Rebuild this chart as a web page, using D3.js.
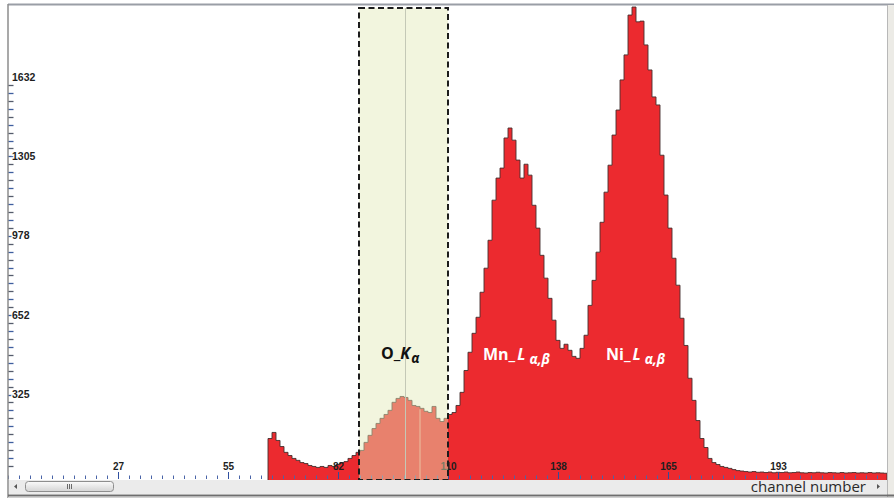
<!DOCTYPE html>
<html>
<head>
<meta charset="utf-8">
<script src="https://cdn.jsdelivr.net/npm/d3@7"></script>
<style>
  body { margin: 0; background: #ffffff; }
  svg { display: block; }
</style>
</head>
<body>
<svg id="chart" width="894" height="498"></svg>
<script>
// ---- spectrum data -------------------------------------------------------
// counts per channel, starting at channel 65 (channels below are empty)
const firstChannel = 65;
const counts = [
  144, 169, 136, 111, 87, 74, 62, 54, 45, 41,          // 65-74
  33, 29, 25, 29, 25, 33, 29, 37, 45, 49,              // 75-84
  62, 74, 87, 95, 128, 157, 185, 206, 227, 243,        // 85-94
  260, 293, 309, 317, 313, 301, 280, 276, 268, 256,    // 95-104
  251, 276, 227, 214, 227, 243, 251, 280, 334, 424,    // 105-114
  499, 577, 643, 746, 845, 960, 1125, 1216, 1257, 1381,// 115-124
  1422, 1372, 1290, 1216, 1273, 1228, 1104, 1010, 898, 804, // 125-134
  721, 631, 548, 515, 532, 507, 482, 474, 515, 569,    // 135-144
  692, 795, 911, 1034, 1158, 1269, 1393, 1496, 1620, 1723, // 145-154
  1887, 1920, 1859, 1862, 1764, 1661, 1550, 1517, 1310, 1146, // 155-164
  1010, 886, 775, 639, 527, 392, 301, 218, 144, 107,   // 165-174
  62, 45, 37, 29, 25, 21, 16, 12, 10, 8,               // 175-184
  6, 8, 5, 6, 4, 6, 3, 5, 4, 6,                        // 185-194
  3, 4, 6, 3, 2, 4, 3, 5, 3, 2,                        // 195-204
  4, 3, 2, 4, 2, 3, 4, 2, 3, 2,                        // 205-214
  4, 2, 3, 2, 1                                        // 215-219
];
const lastChannel = 219.75;                 // right edge of the channel axis
const maxCount = 1929;                       // top of the count axis

// axis ticks
const xTickValues = [27.5, 55, 82.5, 110, 137.5, 165, 192.5];
const xTickLabels = ["27", "55", "82", "110", "138", "165", "193"];
const yTickValues = [325, 652, 978, 1305, 1632];
const yTickLabels = ["325", "652", "978", "1305", "1632"];

// integration window for the oxygen line (in channels)
const oWindow = [87.75, 110];
const oWindowCentre = 99.25;

// peak annotations
const peakNames = ["O_", "Mn_", "Ni_"];
const peakLines = ["K", "L", "L"];
const peakSubs  = ["α", "α,β", "α,β"];
const peakChannels = [93.25, 118.75, 149.5];

// ---- layout ----------------------------------------------------------------
const svg = d3.select("#chart");
const plotLeft = 8, plotRight = 887, plotTop = 5, plotBottom = 479;

const x = d3.scaleLinear().domain([0, lastChannel]).range([plotLeft, plotRight]);
const y = d3.scaleLinear().domain([0, 1632]).range([473.5, 77]);

const series = counts.map((v, i) => ({ ch: firstChannel + i, v }));
series.push({ ch: lastChannel, v: counts[counts.length - 1] });

// window background
svg.append("rect")
  .attr("x", 0).attr("y", 0).attr("width", 894).attr("height", 498)
  .attr("fill", "#ffffff");

// ---- spectrum ---------------------------------------------------------------
const area = d3.area()
  .curve(d3.curveStepAfter)
  .x(d => x(d.ch))
  .y0(plotBottom + 2)
  .y1(d => y(d.v));

svg.append("path")
  .datum(series)
  .attr("d", area)
  .attr("fill", "#ec2a2f")
  .attr("stroke", "#46302f")
  .attr("stroke-width", 0.9);

// faint marker inside the oxygen window
const markCh = 103;
svg.append("line")
  .attr("x1", x(markCh)).attr("x2", x(markCh))
  .attr("y1", y(counts[markCh - firstChannel]) + 1).attr("y2", plotBottom)
  .attr("stroke", "#f2a090").attr("stroke-width", 1);

// ---- channel axis (drawn inside the plot, along the bottom) ----------------
const minorX = d3.range(0, lastChannel, 2.75);
svg.append("g").selectAll("line")
  .data(minorX)
  .join("line")
  .attr("x1", d => x(d) + 0.5).attr("x2", d => x(d) + 0.5)
  .attr("y1", plotBottom - 3.5).attr("y2", plotBottom)
  .attr("stroke", "#4a64a8").attr("stroke-width", 1);

svg.append("g").selectAll("line")
  .data(xTickValues)
  .join("line")
  .attr("x1", d => x(d) + 0.5).attr("x2", d => x(d) + 0.5)
  .attr("y1", plotBottom - 7).attr("y2", plotBottom)
  .attr("stroke", "#2f4fa0").attr("stroke-width", 1);

svg.append("g").selectAll("text")
  .data(xTickValues)
  .join("text")
  .attr("x", d => x(d) + 0.5)
  .attr("y", 470)
  .attr("text-anchor", "middle")
  .attr("font-family", "Liberation Sans, Arial, sans-serif")
  .attr("font-weight", "bold")
  .attr("font-size", 10)
  .attr("fill", "#1e1e1e")
  .text((d, i) => xTickLabels[i]);

// ---- oxygen window overlay -------------------------------------------------
svg.append("rect")
  .attr("x", x(oWindow[0])).attr("y", 8)
  .attr("width", x(oWindow[1]) - x(oWindow[0]))
  .attr("height", plotBottom + 1 - 8)
  .attr("fill", "rgb(226,233,182)")
  .attr("fill-opacity", 0.46);

svg.append("line")
  .attr("x1", x(oWindowCentre) + 0.5).attr("x2", x(oWindowCentre) + 0.5)
  .attr("y1", 8).attr("y2", plotBottom)
  .attr("stroke", "#c4c8b6").attr("stroke-width", 1);

svg.append("rect")
  .attr("x", x(oWindow[0])).attr("y", 8)
  .attr("width", x(oWindow[1]) - x(oWindow[0]))
  .attr("height", plotBottom + 1 - 8)
  .attr("fill", "none")
  .attr("stroke", "#1c1c1c")
  .attr("stroke-width", 2)
  .attr("stroke-dasharray", "6,3.5");

// ---- count axis (left edge) -------------------------------------------------
const yStep = (yTickValues[yTickValues.length - 1] - yTickValues[0]) / ((yTickValues.length - 1) * 10);
const minorY = d3.range(-20, 40)
  .map(k => yTickValues[0] + k * yStep)
  .filter(v => v >= 0 && v <= maxCount && y(v) > plotTop + 2 && y(v) < plotBottom - 4);
svg.append("g").selectAll("line")
  .data(minorY)
  .join("line")
  .attr("x1", plotLeft).attr("x2", plotLeft + 5.5)
  .attr("y1", d => Math.round(y(d)) + 0.5).attr("y2", d => Math.round(y(d)) + 0.5)
  .attr("stroke", (d, i) => i % 2 ? "#3f5f9f" : "#555c6c")
  .attr("stroke-width", 1.3);

svg.append("g").selectAll("text")
  .data(yTickValues)
  .join("text")
  .attr("x", plotLeft + 4)
  .attr("y", d => y(d) + 3.5)
  .attr("font-family", "Liberation Sans, Arial, sans-serif")
  .attr("font-weight", "bold")
  .attr("font-size", 10.5)
  .attr("fill", "#1e1e1e")
  .attr("paint-order", "stroke")
  .attr("stroke", "#ffffff").attr("stroke-width", 2)
  .text((d, i) => yTickLabels[i]);

// ---- peak labels --------------------------------------------------------------
const peakColours = ["#111111", "#ffffff", "#ffffff"];
const peakY = [359, 360, 360];
peakNames.forEach((name, i) => {
  const t = svg.append("text")
    .attr("x", x(peakChannels[i]))
    .attr("y", peakY[i])
    .attr("font-family", "Open Sans, DejaVu Sans, sans-serif")
    .attr("font-weight", "bold")
    .attr("font-size", 16)
    .attr("fill", peakColours[i]);
  t.append("tspan").text(name);
  t.append("tspan").attr("font-style", "italic").attr("dx", i === 0 ? 0 : 2).text(peakLines[i]);
  t.append("tspan")
    .attr("font-style", "italic")
    .attr("font-size", 13.5)
    .attr("dx", i === 0 ? 1 : 4)
    .attr("dy", 3.5)
    .text(peakSubs[i]);
});

// ---- frame, scroll bar and axis caption ---------------------------------------
svg.append("line")
  .attr("x1", plotLeft).attr("x2", 894).attr("y1", plotTop - 0.5).attr("y2", plotTop - 0.5)
  .attr("stroke", "#9a9ea6").attr("stroke-width", 2);
svg.append("line")
  .attr("x1", plotLeft).attr("x2", plotLeft).attr("y1", plotTop - 1).attr("y2", 498)
  .attr("stroke", "#8c8c8c").attr("stroke-width", 1.5);
svg.append("rect")
  .attr("x", plotRight).attr("y", plotTop).attr("width", 894 - plotRight).attr("height", 498 - plotTop)
  .attr("fill", "#ecebe6");
svg.append("line")
  .attr("x1", plotRight + 0.5).attr("x2", plotRight + 0.5).attr("y1", plotTop).attr("y2", 498)
  .attr("stroke", "#b8b8b8").attr("stroke-width", 1);

// scroll bar strip
svg.append("rect")
  .attr("x", plotLeft + 1).attr("y", plotBottom + 1).attr("width", plotRight - plotLeft - 1).attr("height", 14)
  .attr("fill", "#ebebeb");
svg.append("line")
  .attr("x1", plotLeft).attr("x2", 894).attr("y1", 495.5).attr("y2", 495.5)
  .attr("stroke", "#6e6e6e").attr("stroke-width", 2);
svg.append("rect")
  .attr("x", plotLeft).attr("y", 497).attr("width", 894 - plotLeft).attr("height", 1)
  .attr("fill", "#d0d0d0");

const grad = svg.append("defs").append("linearGradient")
  .attr("id", "thumb").attr("x1", 0).attr("x2", 0).attr("y1", 0).attr("y2", 1);
grad.append("stop").attr("offset", "0%").attr("stop-color", "#fbfbfb");
grad.append("stop").attr("offset", "100%").attr("stop-color", "#d4d4d4");

svg.append("rect")
  .attr("x", 25.5).attr("y", 481.5).attr("width", 88).attr("height", 10).attr("rx", 3)
  .attr("fill", "url(#thumb)").attr("stroke", "#8e8e8e").attr("stroke-width", 1);
svg.append("g").selectAll("line")
  .data([67, 69, 71])
  .join("line")
  .attr("x1", d => d + 0.5).attr("x2", d => d + 0.5).attr("y1", 484).attr("y2", 489)
  .attr("stroke", "#6a6a6a").attr("stroke-width", 1);

svg.append("path")
  .attr("d", "M14,486.5 L17,484 L17,489 Z").attr("fill", "#555");
svg.append("path")
  .attr("d", "M880,486.5 L877,484 L877,489 Z").attr("fill", "#555");

svg.append("text")
  .attr("x", 866).attr("y", 492)
  .attr("text-anchor", "end")
  .attr("font-family", "Open Sans, DejaVu Sans, sans-serif")
  .attr("font-size", 15)
  .attr("fill", "#2a2a2a")
  .text("channel number");
</script>
</body>
</html>
